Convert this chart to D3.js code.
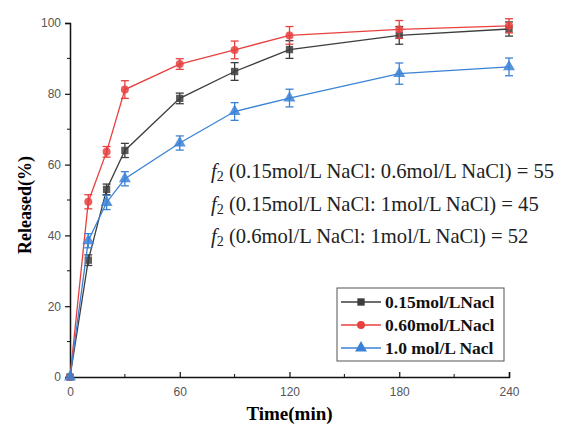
<!DOCTYPE html>
<html>
<head>
<meta charset="utf-8">
<script src="https://cdn.jsdelivr.net/npm/d3@7"></script>
<style>
body{margin:0;background:#fff;}
svg{display:block;}
</style>
</head>
<body>
<div id="chart-area"></div>
<script>
// ---------DATA----------
let times=[0,10,20,30,60,90,120,180,240];
let seriesNames=["0.15mol/LNacl","0.60mol/LNacl","1.0 mol/L Nacl"];
let low=[0,33,53,64,78.7,86.3,92.5,96.5,98.3];
let mid=[0,49.5,63.6,81.2,88.4,92.4,96.5,98.2,99.2];
let high=[0,38.5,49.3,56,66.1,75,78.8,85.7,87.6];
let lowErr=[0,1.5,1.5,2,1.5,2.5,2.5,2.5,2];
let midErr=[0,2,1.5,2.5,1.5,2.5,2.5,2.5,2];
let highErr=[0,2,2,2,2,2.5,2.5,3,2.5];
let xTicks=[0,60,120,180,240];
let yTicks=[0,20,40,60,80,100];
let notes=[
	"(0.15mol/L NaCl: 0.6mol/L NaCl) = 55",
	"(0.15mol/L NaCl: 1mol/L NaCl) = 45",
	"(0.6mol/L NaCl: 1mol/L NaCl) = 52"
];

let SERIF="'Liberation Serif'";
let SANS="'Liberation Sans'";
let colors=["#3d3d3d","#e8403f","#3b82d6"];
let shapes=[d3.symbolSquare,d3.symbolCircle,d3.symbolTriangle];
let sizes=[54,50,62];

let series=seriesNames.map(function(name,i){
	let vals=[low,mid,high][i];
	let errs=[lowErr,midErr,highErr][i];
	return {name:name,color:colors[i],shape:shapes[i],size:sizes[i],
		points:times.map((t,j)=>({t:t,v:vals[j],e:errs[j]}))};
});

let W=582,H=428;
let svg=d3.select("#chart-area").append("svg")
	.attr("width",W).attr("height",H);

//---------SCALES--------
let x=d3.scaleLinear().domain([0,240]).range([70,509]);
let y=d3.scaleLinear().domain([0,100]).range([377,23]);

//---------AXES----------
let xAxis=d3.axisBottom(x).tickValues(xTicks).tickSize(-5).tickPadding(10);
let xg=svg.append("g").attr("transform","translate(0,"+y(0)+")").call(xAxis);
xg.select(".domain").attr("stroke","#111").attr("stroke-width",1.5);
xg.selectAll(".tick line").attr("stroke","#111").attr("stroke-width",1.2);
xg.selectAll(".tick text").style("font-family",SANS)
	.style("font-size","12px").attr("fill","#555");

let yAxis=d3.axisLeft(y).tickValues(yTicks).tickSize(5).tickPadding(4);
let yg=svg.append("g").attr("transform","translate("+x(0)+",0)").call(yAxis);
yg.select(".domain").attr("stroke","#111").attr("stroke-width",1.5);
yg.selectAll(".tick line").attr("stroke","#111").attr("stroke-width",1.2);
yg.selectAll(".tick text").style("font-family",SANS)
	.style("font-size","12px").attr("fill","#555");

// minor ticks
[30,90,150,210].forEach(function(t){
	svg.append("line").attr("x1",x(t)).attr("x2",x(t))
		.attr("y1",y(0)).attr("y2",y(0)-3).attr("stroke","#111");
});
[10,30,50,70,90].forEach(function(v){
	svg.append("line").attr("x1",x(0)).attr("x2",x(0)-3)
		.attr("y1",y(v)).attr("y2",y(v)).attr("stroke","#111");
});

//---------LABELS--------
svg.append("text")
	.attr("transform","translate(31,"+((y(0)+y(100))/2+5)+") rotate(-90)")
	.attr("text-anchor","middle")
	.style("font-family",SERIF).style("font-weight","bold").style("font-size","18px")
	.text("Released(%)");

svg.append("text")
	.attr("x",(x(0)+x(240))/2).attr("y",420)
	.attr("text-anchor","middle")
	.style("font-family",SERIF).style("font-weight","bold").style("font-size","19px")
	.text("Time(min)");

//---------SERIES--------
let line=d3.line().x(d=>x(d.t)).y(d=>y(d.v));

series.forEach(function(s){
	let g=svg.append("g");
	g.append("path").datum(s.points).attr("d",line)
		.attr("fill","none").attr("stroke",s.color).attr("stroke-width",1.3);
	let eb=g.selectAll(".err").data(s.points.filter(d=>d.e>0)).enter().append("g");
	eb.append("line").attr("x1",d=>x(d.t)).attr("x2",d=>x(d.t))
		.attr("y1",d=>y(d.v-d.e)).attr("y2",d=>y(d.v+d.e))
		.attr("stroke",s.color).attr("stroke-width",1.3);
	eb.append("line").attr("x1",d=>x(d.t)-4).attr("x2",d=>x(d.t)+4)
		.attr("y1",d=>y(d.v+d.e)).attr("y2",d=>y(d.v+d.e))
		.attr("stroke",s.color).attr("stroke-width",1.3);
	eb.append("line").attr("x1",d=>x(d.t)-4).attr("x2",d=>x(d.t)+4)
		.attr("y1",d=>y(d.v-d.e)).attr("y2",d=>y(d.v-d.e))
		.attr("stroke",s.color).attr("stroke-width",1.3);
	g.selectAll(".pt").data(s.points).enter().append("path")
		.attr("d",d3.symbol().type(s.shape).size(s.size))
		.attr("transform",d=>"translate("+x(d.t)+","+y(d.v)+")")
		.attr("fill",s.color).attr("fill-opacity",0.85);
});

//---------NOTES---------
notes.forEach(function(n,i){
	let t=svg.append("text")
		.attr("x",211).attr("y",178+i*32.5)
		.style("font-family",SERIF).style("font-size","20.6px").attr("fill","#222");
	t.append("tspan").style("font-style","italic").text("f");
	t.append("tspan").style("font-size","14px").attr("dy",3).text("2");
	t.append("tspan").attr("dy",-3).text(" "+n);
});

//---------LEGEND--------
let legend=svg.append("g");
legend.append("rect").attr("x",337).attr("y",288).attr("width",167).attr("height",73)
	.attr("fill","#fff").attr("stroke","#555").attr("stroke-width",1);
series.forEach(function(s,i){
	let ly=302+i*23;
	legend.append("line").attr("x1",341).attr("x2",381).attr("y1",ly).attr("y2",ly)
		.attr("stroke",s.color).attr("stroke-width",1.3);
	legend.append("path").attr("d",d3.symbol().type(s.shape).size(s.size))
		.attr("transform","translate(361,"+ly+")").attr("fill",s.color);
	legend.append("text").attr("x",385).attr("y",ly+6)
		.style("font-family",SERIF).style("font-weight","bold").style("font-size","17.5px").attr("fill","#111")
		.text(s.name);
});
</script>
</body>
</html>
